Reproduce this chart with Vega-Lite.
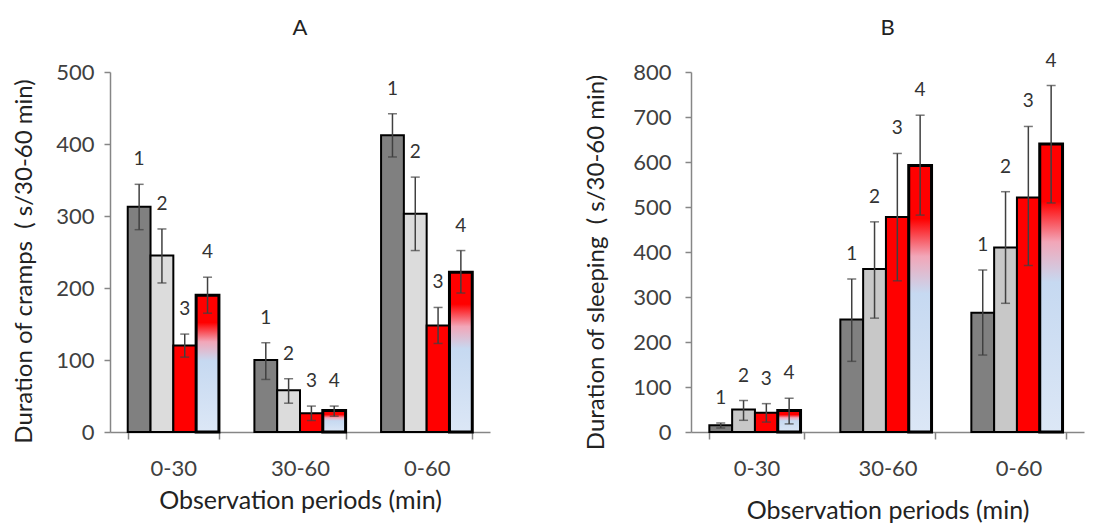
{
  "$schema": "https://vega.github.io/schema/vega-lite/v6.json",
  "padding": {"left": 12, "top": 16, "right": 5, "bottom": 5},
  "background": "white",
  "config": {
    "view": {"stroke": null},
    "font": "Lato",
    "axis": {"grid": false, "domainColor": "#868686", "domainWidth": 1.5, "tickColor": "#868686", "tickWidth": 1.5, "labelFont": "Lato", "labelFontSize": 22, "labelColor": "#404040", "titleFont": "Lato", "titleFontSize": 24, "titleFontWeight": "normal", "titleColor": "#222222"},
    "axisX": {"titleFontSize": 25},
    "title": {"font": "Lato", "fontSize": 22, "fontWeight": "normal", "color": "#222222", "frame": "group", "baseline": "bottom"}
  },
  "data": {"values": [
    {"panel": "A", "period": "0-30", "group": "1", "value": 313, "lo": 281, "hi": 344},
    {"panel": "A", "period": "0-30", "group": "2", "value": 245, "lo": 207, "hi": 282},
    {"panel": "A", "period": "0-30", "group": "3", "value": 120, "lo": 104, "hi": 136},
    {"panel": "A", "period": "0-30", "group": "4", "value": 190, "lo": 165, "hi": 215},
    {"panel": "A", "period": "30-60", "group": "1", "value": 100, "lo": 73, "hi": 124},
    {"panel": "A", "period": "30-60", "group": "2", "value": 58, "lo": 40, "hi": 74},
    {"panel": "A", "period": "30-60", "group": "3", "value": 26, "lo": 16, "hi": 36},
    {"panel": "A", "period": "30-60", "group": "4", "value": 30, "lo": 22, "hi": 36},
    {"panel": "A", "period": "0-60", "group": "1", "value": 412, "lo": 382, "hi": 442},
    {"panel": "A", "period": "0-60", "group": "2", "value": 303, "lo": 252, "hi": 354},
    {"panel": "A", "period": "0-60", "group": "3", "value": 148, "lo": 123, "hi": 173},
    {"panel": "A", "period": "0-60", "group": "4", "value": 222, "lo": 193, "hi": 252},
    {"panel": "B", "period": "0-30", "group": "1", "value": 15, "lo": 9, "hi": 20},
    {"panel": "B", "period": "0-30", "group": "2", "value": 50, "lo": 26, "hi": 70},
    {"panel": "B", "period": "0-30", "group": "3", "value": 43, "lo": 22, "hi": 63},
    {"panel": "B", "period": "0-30", "group": "4", "value": 48, "lo": 18, "hi": 75},
    {"panel": "B", "period": "30-60", "group": "1", "value": 250, "lo": 157, "hi": 340},
    {"panel": "B", "period": "30-60", "group": "2", "value": 362, "lo": 253, "hi": 467},
    {"panel": "B", "period": "30-60", "group": "3", "value": 478, "lo": 336, "hi": 619},
    {"panel": "B", "period": "30-60", "group": "4", "value": 592, "lo": 482, "hi": 704},
    {"panel": "B", "period": "0-60", "group": "1", "value": 265, "lo": 171, "hi": 360},
    {"panel": "B", "period": "0-60", "group": "2", "value": 410, "lo": 286, "hi": 534},
    {"panel": "B", "period": "0-60", "group": "3", "value": 521, "lo": 370, "hi": 679},
    {"panel": "B", "period": "0-60", "group": "4", "value": 640, "lo": 509, "hi": 770}
  ]},
  "spacing": 94,
  "resolve": {"scale": {"color": "independent"}},
  "hconcat": [
    {
      "title": {"text": "A", "offset": 21},
      "width": 380,
      "height": 360,
      "transform": [{"filter": "datum.panel === 'A'"}],
      "encoding": {
        "x": {"field": "period", "type": "nominal", "sort": ["0-30", "30-60", "0-60"], "scale": {"paddingInner": 0.28, "paddingOuter": 0.14}, "axis": {"title": "Observation periods (min)", "labelAngle": 0, "tickBand": "extent", "tickSize": 7, "labelPadding": 19, "titlePadding": 9}},
        "xOffset": {"field": "group", "type": "nominal", "scale": {"domain": ["1", "2", "3", "4"], "paddingInner": 0, "paddingOuter": 0}}
      },
      "layer": [
        {
          "transform": [{"filter": "datum.group !== '4'"}],
          "mark": {"type": "bar", "stroke": "black", "strokeWidth": 2},
          "encoding": {
            "y": {"field": "value", "type": "quantitative", "scale": {"domain": [0, 500], "nice": false}, "title": "Duration of cramps \u00a0( s/30-60 min)", "axis": {"values": [0, 100, 200, 300, 400, 500], "tickSize": 6, "labelPadding": 10, "titlePadding": 19, "titleY": 189}},
            "color": {"field": "group", "type": "nominal", "scale": {"domain": ["1", "2", "3"], "range": ["#808080", "#dcdcdc", "#ff0000"]}, "legend": null}
          }
        },
        {
          "transform": [{"filter": "datum.group === '4'"}],
          "mark": {"type": "bar", "stroke": "black", "strokeWidth": 3, "fill": {"gradient": "linear", "x1": 0, "y1": 0, "x2": 0, "y2": 1, "stops": [{"offset": 0, "color": "#ff0000"}, {"offset": 0.2, "color": "#ff0000"}, {"offset": 0.34, "color": "#f2a6b8"}, {"offset": 0.48, "color": "#c6d9f1"}, {"offset": 1, "color": "#dce7f6"}]}},
          "encoding": {"y": {"field": "value", "type": "quantitative", "title": "Duration of cramps \u00a0( s/30-60 min)"}}
        },
        {
          "mark": {"type": "rule", "color": "#404040", "strokeWidth": 1.5},
          "encoding": {"y": {"field": "lo", "type": "quantitative", "title": "Duration of cramps \u00a0( s/30-60 min)"}, "y2": {"field": "hi"}}
        },
        {
          "mark": {"type": "tick", "orient": "horizontal", "size": 9, "thickness": 1.5, "color": "#404040"},
          "encoding": {"y": {"field": "hi", "type": "quantitative", "title": "Duration of cramps \u00a0( s/30-60 min)"}}
        },
        {
          "mark": {"type": "tick", "orient": "horizontal", "size": 9, "thickness": 1.5, "color": "#404040"},
          "encoding": {"y": {"field": "lo", "type": "quantitative", "title": "Duration of cramps \u00a0( s/30-60 min)"}}
        },
        {
          "mark": {"type": "text", "dy": -25, "fontSize": 19, "color": "#333333", "baseline": "middle", "font": "Lato"},
          "encoding": {"y": {"field": "hi", "type": "quantitative", "title": "Duration of cramps \u00a0( s/30-60 min)"}, "text": {"field": "group"}}
        }
      ]
    },
    {
      "title": {"text": "B", "offset": 12},
      "width": 393,
      "height": 360,
      "transform": [{"filter": "datum.panel === 'B'"}],
      "encoding": {
        "x": {"field": "period", "type": "nominal", "sort": ["0-30", "30-60", "0-60"], "scale": {"paddingInner": 0.28, "paddingOuter": 0.14}, "axis": {"title": "Observation periods (min)", "labelAngle": 0, "tickBand": "extent", "tickSize": 7, "labelPadding": 19, "titlePadding": 19}},
        "xOffset": {"field": "group", "type": "nominal", "scale": {"domain": ["1", "2", "3", "4"], "paddingInner": 0, "paddingOuter": 0}}
      },
      "layer": [
        {
          "transform": [{"filter": "datum.group !== '4'"}],
          "mark": {"type": "bar", "stroke": "black", "strokeWidth": 2},
          "encoding": {
            "y": {"field": "value", "type": "quantitative", "scale": {"domain": [0, 800], "nice": false}, "title": "Duration of sleeping \u00a0( s/30-60 min)", "axis": {"values": [0, 100, 200, 300, 400, 500, 600, 700, 800], "tickSize": 6, "labelPadding": 14, "titlePadding": 24, "titleY": 190}},
            "color": {"field": "group", "type": "nominal", "scale": {"domain": ["1", "2", "3"], "range": ["#808080", "#c8c8c8", "#ff0000"]}, "legend": null}
          }
        },
        {
          "transform": [{"filter": "datum.group === '4'"}],
          "mark": {"type": "bar", "stroke": "black", "strokeWidth": 3, "fill": {"gradient": "linear", "x1": 0, "y1": 0, "x2": 0, "y2": 1, "stops": [{"offset": 0, "color": "#ff0000"}, {"offset": 0.2, "color": "#ff0000"}, {"offset": 0.34, "color": "#f2a6b8"}, {"offset": 0.48, "color": "#c6d9f1"}, {"offset": 1, "color": "#dce7f6"}]}},
          "encoding": {"y": {"field": "value", "type": "quantitative", "title": "Duration of sleeping \u00a0( s/30-60 min)"}}
        },
        {
          "mark": {"type": "rule", "color": "#404040", "strokeWidth": 1.5},
          "encoding": {"y": {"field": "lo", "type": "quantitative", "title": "Duration of sleeping \u00a0( s/30-60 min)"}, "y2": {"field": "hi"}}
        },
        {
          "mark": {"type": "tick", "orient": "horizontal", "size": 9, "thickness": 1.5, "color": "#404040"},
          "encoding": {"y": {"field": "hi", "type": "quantitative", "title": "Duration of sleeping \u00a0( s/30-60 min)"}}
        },
        {
          "mark": {"type": "tick", "orient": "horizontal", "size": 9, "thickness": 1.5, "color": "#404040"},
          "encoding": {"y": {"field": "lo", "type": "quantitative", "title": "Duration of sleeping \u00a0( s/30-60 min)"}}
        },
        {
          "mark": {"type": "text", "dy": -25, "fontSize": 19, "color": "#333333", "baseline": "middle", "font": "Lato"},
          "encoding": {"y": {"field": "hi", "type": "quantitative", "title": "Duration of sleeping \u00a0( s/30-60 min)"}, "text": {"field": "group"}}
        }
      ]
    }
  ]
}
